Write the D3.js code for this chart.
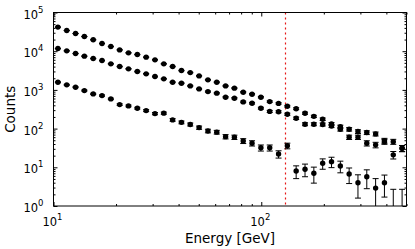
<!DOCTYPE html>
<html>
<head>
<meta charset="utf-8">
<script src="https://cdnjs.cloudflare.com/ajax/libs/d3/7.8.5/d3.min.js"></script>
<style>
    body { margin: 0; background: #fff; }
    text { font-family: "DejaVu Sans", sans-serif; fill: #000; }
</style>
</head>
<body>
<div id="chart-area"></div>
<script>
// bin centres [GeV]
var energy = [10.50, 11.58, 12.77, 14.08, 15.53, 17.12, 18.88, 20.82, 22.96, 25.32,
    27.92, 30.79, 33.95, 37.44, 41.29, 45.53, 50.21, 55.37, 61.06, 67.33,
    74.25, 81.88, 90.29, 99.57, 109.8, 121.1, 133.5, 147.2, 162.4, 179.1,
    197.5, 217.8, 240.2, 264.8, 292.0, 322.0, 355.1, 391.6, 431.8, 476.2];

// upper spectrum
var countsTop = [41900, 34200, 28600, 23900, 19700, 15800, 13200, 10800, 9070, 8200,
    7020, 5980, 4710, 4010, 3160, 2800, 2300, 1820, 1580, 1270,
    1110, 873, 775, 648, 499, 448, 379, 327, 250, 207,
    175, 132, 112, 96, 84, 79, 73, 49, 46, 31];
var errTop = [205, 185, 169, 155, 140, 126, 115, 104, 95, 91,
    84, 77, 69, 63, 56, 53, 48, 43, 40, 36,
    33, 30, 28, 25, 22, 21, 19, 18, 16, 14,
    13, 11.5, 10.6, 9.8, 9.2, 8.9, 8.5, 7, 6.8, 5.6];

// middle spectrum
var countsMid = [11700, 10200, 8700, 7450, 6460, 5730, 4710, 4010, 3500, 2980,
    2600, 2210, 1930, 1580, 1490, 1270, 1060, 905, 823, 648,
    611, 490, 453, 337, 278, 273, 235, 185, 130, 130,
    128, 117, 96, 60, 60, 42, 38, 46, 21, 31];
var errMid = [108, 101, 93, 86, 80, 76, 69, 63, 59, 55,
    51, 47, 44, 40, 39, 36, 33, 30, 29, 25,
    25, 22, 21, 18, 17, 16.5, 15.3, 13.6, 11.4, 11.4,
    11.3, 10.8, 9.8, 7.7, 7.7, 6.5, 6.2, 6.8, 4.6, 5.6];

// lower spectrum
var countsLow = [1580, 1350, 1175, 960, 789, 713, 586, 417, 386, 337,
    292, 244, 251, 168, 145, 128, 106, 87, 81, 62,
    60, 48, 42, 32, 32, 22, 36, 8.0, 8.9, 7.0,
    12.7, 14.0, 10.8, 6.7, 4.0, 5.7, 2.9, 4.0, 0, 0];
var errLow = [40, 37, 34, 31, 28, 27, 24, 20, 20, 18,
    17, 16, 16, 13, 12, 11.3, 10.3, 9.3, 9, 7.9,
    7.7, 6.9, 6.5, 5.7, 5.7, 4.7, 6, 2.9, 3.2, 3.1,
    3.8, 4.2, 3.6, 2.9, 2.4, 2.9, 2.2, 2.3, 2.7, 2.7];

var cutEnergy = 130;
var xTickLabels = [10, 100];
var yTickLabels = [1, 10, 100, 1000, 10000, 100000];

var margin = { left: 53.5, right: 8.5, top: 12.5, bottom: 43 };
var width = 415 - margin.left - margin.right,
    height = 249 - margin.top - margin.bottom;

var svg = d3.select("#chart-area")
    .append("svg")
    .attr("width", width + margin.left + margin.right)
    .attr("height", height + margin.top + margin.bottom);

var g = svg.append("g")
    .attr("transform", "translate(" + margin.left + ", " + margin.top + ")");

var x = d3.scaleLog().domain([10, 500]).range([0, width]);
var y = d3.scaleLog().domain([1, 1e5]).range([height, 0]);

g.append("clipPath").attr("id", "plot-clip")
    .append("rect").attr("width", width).attr("height", height);

// ticks, all pointing inwards, on four sides
var xMajor = xTickLabels;
var xMinor = x.ticks().filter(function (d) { return xMajor.indexOf(d) < 0; });
var yMajor = yTickLabels;
var yMinor = y.ticks().filter(function (d) { return yMajor.indexOf(d) < 0; });

function drawAxis(axisFn, scale, values, size, transform) {
    var a = g.append("g")
        .attr("transform", transform)
        .call(axisFn(scale).tickValues(values).tickSize(size).tickFormat(""));
    a.select(".domain").remove();
    a.selectAll("line").attr("stroke", "#000").attr("stroke-width", 1);
}
drawAxis(d3.axisBottom, x, xMajor, -4, "translate(0," + height + ")");
drawAxis(d3.axisBottom, x, xMinor, -2, "translate(0," + height + ")");
drawAxis(d3.axisTop, x, xMajor, -4, "translate(0,0)");
drawAxis(d3.axisTop, x, xMinor, -2, "translate(0,0)");
drawAxis(d3.axisLeft, y, yMajor, -4, "translate(0,0)");
drawAxis(d3.axisLeft, y, yMinor, -2, "translate(0,0)");
drawAxis(d3.axisRight, y, yMajor, -4, "translate(" + width + ",0)");
drawAxis(d3.axisRight, y, yMinor, -2, "translate(" + width + ",0)");

// tick labels as 10^n
function powLabel(sel) {
    sel.append("tspan").text("10");
    sel.append("tspan")
        .attr("dy", -6)
        .attr("font-size", "8.5px")
        .text(function (d) { return Math.round(Math.log10(d)); });
}
g.selectAll(".xlab")
    .data(xTickLabels)
    .enter()
    .append("text")
    .attr("class", "xlab")
    .attr("x", function (d) { return x(d) - 1; })
    .attr("y", height + 20)
    .attr("text-anchor", "middle")
    .attr("font-size", "11.5px")
    .call(powLabel);

g.selectAll(".ylab")
    .data(yTickLabels)
    .enter()
    .append("text")
    .attr("class", "ylab")
    .attr("x", -10)
    .attr("y", function (d) { return y(d) + 6; })
    .attr("text-anchor", "end")
    .attr("font-size", "11.5px")
    .call(powLabel);

// axis titles
g.append("text")
    .attr("x", width / 2)
    .attr("y", 230)
    .attr("text-anchor", "middle")
    .attr("font-size", "13.5px")
    .text("Energy [GeV]");

g.append("text")
    .attr("transform", "translate(" + (15 - margin.left) + "," + (height / 2) + ") rotate(-90)")
    .attr("text-anchor", "middle")
    .attr("font-size", "13.5px")
    .text("Counts");

var plot = g.append("g").attr("clip-path", "url(#plot-clip)");

// cut line (red dotted)
var cutX = Math.round(x(cutEnergy) + margin.left) + 0.5 - margin.left;
plot.append("line")
    .attr("x1", cutX).attr("x2", cutX)
    .attr("y1", 0).attr("y2", height)
    .style("stroke", "rgb(230, 20, 20)")
    .style("stroke-width", 1.2)
    .style("stroke-dasharray", "2,3");

// points with error bars
var series = [
    { counts: countsTop, err: errTop },
    { counts: countsMid, err: errMid },
    { counts: countsLow, err: errLow }
];

series.forEach(function (s) {
    var pts = energy.map(function (e, i) {
        return { e: e, v: s.counts[i], err: s.err[i] };
    });
    var cap = 3;

    var bars = plot.append("g")
        .attr("stroke", "#000")
        .attr("stroke-width", 1);

    bars.selectAll(".eb")
        .data(pts)
        .enter()
        .append("line")
        .attr("x1", function (d) { return x(d.e); })
        .attr("x2", function (d) { return x(d.e); })
        .attr("y1", function (d) { return y(d.v + d.err); })
        .attr("y2", function (d) { return d.v - d.err > 0.01 ? y(d.v - d.err) : height + 2; });

    bars.selectAll(".capHi")
        .data(pts)
        .enter()
        .append("line")
        .attr("x1", function (d) { return x(d.e) - cap; })
        .attr("x2", function (d) { return x(d.e) + cap; })
        .attr("y1", function (d) { return y(d.v + d.err); })
        .attr("y2", function (d) { return y(d.v + d.err); });

    bars.selectAll(".capLo")
        .data(pts.filter(function (d) { return d.v - d.err > 0.01; }))
        .enter()
        .append("line")
        .attr("x1", function (d) { return x(d.e) - cap; })
        .attr("x2", function (d) { return x(d.e) + cap; })
        .attr("y1", function (d) { return y(d.v - d.err); })
        .attr("y2", function (d) { return y(d.v - d.err); });

    plot.append("g").selectAll("circle")
        .data(pts.filter(function (d) { return d.v > 0; }))
        .enter()
        .append("circle")
        .attr("cx", function (d) { return x(d.e); })
        .attr("cy", function (d) { return y(d.v); })
        .attr("r", 2.7)
        .attr("fill", "#000");
});

// frame
g.append("rect")
    .attr("width", width)
    .attr("height", height)
    .attr("fill", "none")
    .attr("stroke", "#000")
    .attr("stroke-width", 1);
</script>
</body>
</html>
